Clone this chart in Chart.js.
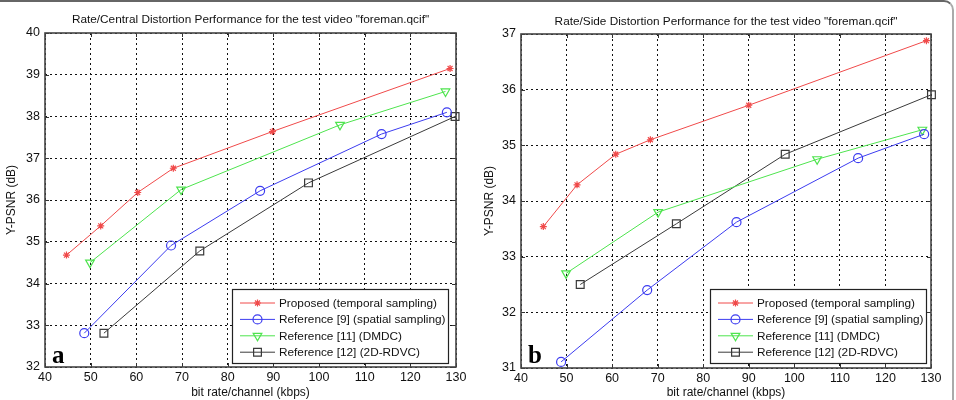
<!DOCTYPE html>
<html>
<head>
<meta charset="utf-8">
<script src="https://cdn.jsdelivr.net/npm/chart.js@4.4.1/dist/chart.umd.min.js"></script>
<style>
body { margin: 0; background: #fff; }
#wrap { position: relative; width: 956px; height: 400px; overflow: hidden; }
#frame { position: absolute; left: 0; top: 0; width: 954px; height: 430px; border-top: 2px solid #666; border-right: 2px solid #aaa; border-top-right-radius: 10px; box-sizing: border-box; }
canvas { position: absolute; top: 0; }
#chartA { left: 0; }
#chartB { left: 478px; }
</style>
</head>
<body>
<div id="wrap">
  <div id="frame"></div>
  <canvas id="chartA" width="478" height="400"></canvas>
  <canvas id="chartB" width="478" height="400"></canvas>
</div>
<script>
const seriesNames = ['Proposed (temporal sampling)', 'Reference [9] (spatial sampling)', 'Reference [11] (DMDC)', 'Reference [12] (2D-RDVC)'];
const xTicks = [40, 50, 60, 70, 80, 90, 100, 110, 120, 130];

// (a) central distortion
const rateProposedA = [44.7, 52.2, 60.3, 68.1, 89.8, 128.7];
const psnrProposedA = [34.68, 35.38, 36.18, 36.76, 37.64, 39.15];
const rateRef9A = [48.6, 67.6, 87.1, 113.7, 128.0];
const psnrRef9A = [32.81, 34.91, 36.22, 37.58, 38.1];
const rateRef11A = [49.85, 69.8, 104.6, 127.7];
const psnrRef11A = [34.5, 36.25, 37.8, 38.6];
const rateRef12A = [52.9, 73.9, 97.7, 129.8];
const psnrRef12A = [32.81, 34.78, 36.41, 38.0];
const yTicksA = [32, 33, 34, 35, 36, 37, 38, 39, 40];

// (b) side distortion
const rateProposedB = [44.9, 52.3, 60.8, 68.4, 90.0, 129.0];
const psnrProposedB = [33.54, 34.29, 34.84, 35.1, 35.72, 36.88];
const rateRef9B = [48.8, 67.7, 87.3, 114.0, 128.5];
const psnrRef9B = [31.11, 32.4, 33.62, 34.77, 35.2];
const rateRef11B = [49.9, 70.1, 105.0, 128.1];
const psnrRef11B = [32.7, 33.8, 34.75, 35.28];
const rateRef12B = [53.0, 74.1, 98.0, 130.1];
const psnrRef12B = [32.5, 33.59, 34.84, 35.91];
const yTicksB = [31, 32, 33, 34, 35, 36, 37];

const styles = [
  { color: '#f04a4a', pointStyle: 'star', radius: 3.5, rotation: 0 },
  { color: '#3c3cf0', pointStyle: 'circle', radius: 4.5, rotation: 0 },
  { color: '#4ee44e', pointStyle: 'triangle', radius: 5, rotation: 180 },
  { color: '#3a3a3a', pointStyle: 'rect', radius: 5.5, rotation: 0 }
];

const font = 'Liberation Sans';

function pts(xs, ys) {
  return xs.map((x, i) => ({ x: x, y: ys[i] }));
}

function makeSets(groups) {
  return groups.map((g, i) => ({
    label: seriesNames[i],
    data: pts(g[0], g[1]),
    borderColor: styles[i].color,
    backgroundColor: 'rgba(0,0,0,0)',
    borderWidth: 1,
    pointStyle: styles[i].pointStyle,
    pointRadius: styles[i].radius,
    pointRotation: styles[i].rotation,
    pointBorderWidth: 1.2,
    pointBorderColor: styles[i].color,
    pointBackgroundColor: 'rgba(0,0,0,0)',
    tension: 0,
    clip: false
  }));
}

// title, box, inward ticks, legend box, panel letter
const decor = {
  id: 'decor',
  afterDraw(chart, args, o) {
    const c = chart.ctx, a = chart.chartArea;
    const sx = chart.scales.x, sy = chart.scales.y;
    c.save();
    c.fillStyle = '#111';
    c.font = '11.8px ' + font;
    c.textAlign = 'center';
    c.textBaseline = 'middle';
    c.fillText(o.title, (a.left + a.right) / 2, o.titleY);

    c.strokeStyle = '#333';
    c.lineWidth = 1;
    c.beginPath();
    xTicks.forEach(v => {
      const px = Math.round(sx.getPixelForValue(v)) + 0.5;
      c.moveTo(px, a.bottom); c.lineTo(px, a.bottom - 4);
      c.moveTo(px, a.top); c.lineTo(px, a.top + 4);
    });
    o.yTicks.forEach(v => {
      const py = Math.round(sy.getPixelForValue(v)) + 0.5;
      c.moveTo(a.left, py); c.lineTo(a.left + 4, py);
      c.moveTo(a.right, py); c.lineTo(a.right - 4, py);
    });
    c.stroke();

    c.strokeStyle = '#444';
    c.lineWidth = 1.6;
    c.strokeRect(a.left, a.top, a.right - a.left, a.bottom - a.top);

    // legend
    const L = o.legend;
    c.fillStyle = '#fff';
    c.fillRect(L.x, L.y, L.w, L.h);
    c.strokeStyle = '#222';
    c.lineWidth = 1.2;
    c.strokeRect(L.x + 0.5, L.y + 0.5, L.w, L.h);
    chart.data.datasets.forEach((ds, i) => {
      const yy = L.y + 14 + i * 16.4;
      c.strokeStyle = ds.borderColor;
      c.lineWidth = 1;
      c.beginPath();
      c.moveTo(L.x + 8, yy); c.lineTo(L.x + 43, yy);
      c.stroke();
      c.fillStyle = 'rgba(0,0,0,0)';
      c.lineWidth = 1.2;
      Chart.helpers.drawPoint(c, {
        pointStyle: ds.pointStyle, radius: ds.pointRadius,
        rotation: ds.pointRotation, borderWidth: 1.2
      }, L.x + 25.5, yy);
      c.fillStyle = '#111';
      c.font = '11.8px ' + font;
      c.textAlign = 'left';
      c.textBaseline = 'middle';
      c.fillText(ds.label, L.x + 47, yy + 0.5);
    });

    c.fillStyle = '#000';
    c.font = 'bold 25px "Liberation Serif"';
    c.textAlign = 'left';
    c.textBaseline = 'alphabetic';
    c.fillText(o.letter, o.letterX, 363);
    c.restore();
  }
};

function makeChart(id, groups, yMin, yMax, o) {
  const ctx = document.getElementById(id).getContext('2d');
  return new Chart(ctx, {
    type: 'line',
    data: { datasets: makeSets(groups) },
    options: {
      responsive: false,
      animation: false,
      layout: { padding: { left: 0, right: o.padRight, top: o.padTop, bottom: 0 } },
      plugins: {
        legend: { display: false },
        tooltip: { enabled: false },
        decor: o
      },
      scales: {
        x: {
          type: 'linear', min: 40, max: 130,
          afterBuildTicks: s => { s.ticks = xTicks.map(v => ({ value: v })); },
          afterFit: s => { s.height = o.xHeight; },
          ticks: { color: '#111', font: { family: font, size: 12.5 }, padding: 3, maxRotation: 0 },
          grid: { color: '#111', lineWidth: 1, drawTicks: false },
          border: { display: false, dash: [2, 3] },
          title: { display: true, text: 'bit rate/channel (kbps)', color: '#111', font: { family: font, size: 12 }, padding: 0 }
        },
        y: {
          type: 'linear', min: yMin, max: yMax,
          afterBuildTicks: s => { s.ticks = o.yTicks.map(v => ({ value: v })); },
          afterFit: s => { s.width = o.yWidth; },
          ticks: { color: '#111', font: { family: font, size: 12.5 }, padding: 5 },
          grid: { color: '#111', lineWidth: 1, drawTicks: false },
          border: { display: false, dash: [2, 3] },
          title: { display: true, text: 'Y-PSNR (dB)', color: '#111', font: { family: font, size: 12 }, padding: { top: 4, bottom: 0 } }
        }
      }
    },
    plugins: [decor]
  });
}

makeChart('chartA', [
  [rateProposedA, psnrProposedA],
  [rateRef9A, psnrRef9A],
  [rateRef11A, psnrRef11A],
  [rateRef12A, psnrRef12A]
], 32, 40, {
  title: 'Rate/Central Distortion Performance for the test video "foreman.qcif"',
  titleY: 19.5, padRight: 22, padTop: 33, xHeight: 33, yWidth: 45,
  yTicks: yTicksA, letter: 'a', letterX: 52,
  legend: { x: 232, y: 289, w: 216, h: 74 }
});

makeChart('chartB', [
  [rateProposedB, psnrProposedB],
  [rateRef9B, psnrRef9B],
  [rateRef11B, psnrRef11B],
  [rateRef12B, psnrRef12B]
], 31, 37, {
  title: 'Rate/Side Distortion Performance for the test video "foreman.qcif"',
  titleY: 21.5, padRight: 25, padTop: 34, xHeight: 32, yWidth: 43,
  yTicks: yTicksB, letter: 'b', letterX: 50,
  legend: { x: 232, y: 289, w: 216, h: 74 }
});
</script>
</body>
</html>
